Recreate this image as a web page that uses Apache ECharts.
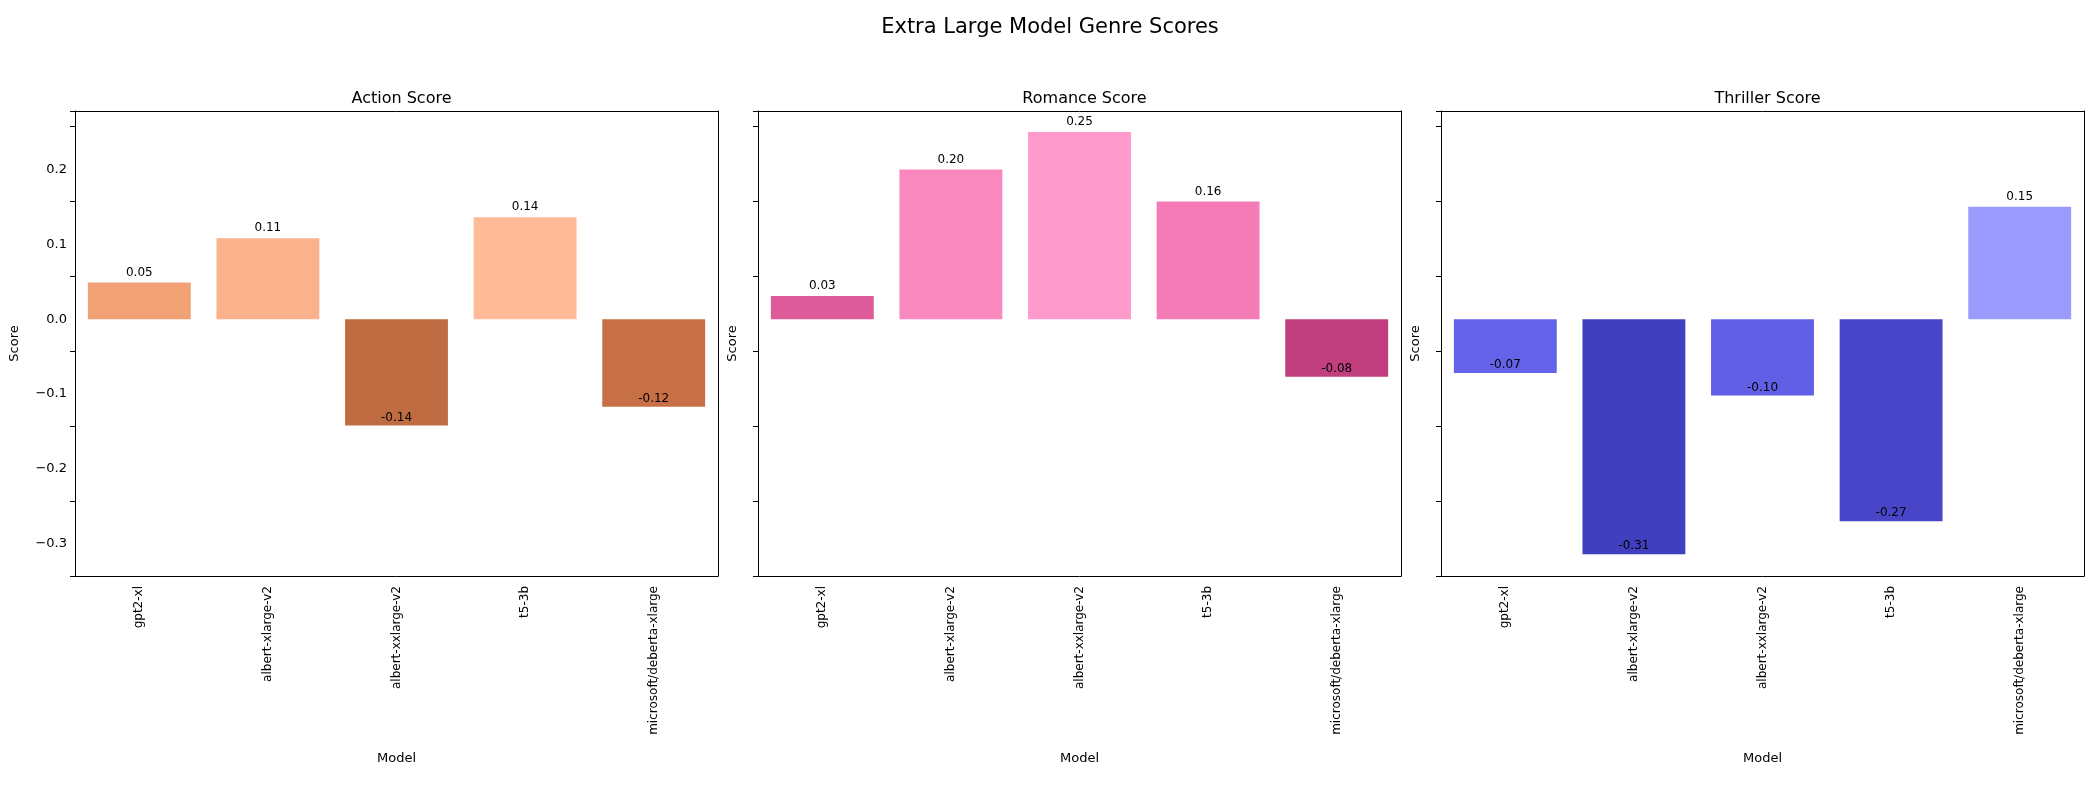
<!DOCTYPE html>
<html><head><meta charset="utf-8">
<script src="https://cdn.jsdelivr.net/npm/echarts@6/dist/echarts.min.js"></script>
<style>body{margin:0}#c{width:2100px;height:800px}</style></head>
<body><div id="c"></div>
<script>
const models = ["gpt2-xl","albert-xlarge-v2","albert-xxlarge-v2","t5-3b","microsoft/deberta-xlarge"];
const panelTitles = ["Action Score","Romance Score","Thriller Score"];
const actionScores = [0.049, 0.108, -0.142, 0.136, -0.117];
const romanceScores = [0.031, 0.200, 0.250, 0.157, -0.077];
const thrillerScores = [-0.072, -0.314, -0.102, -0.270, 0.150];
const actionColors = ["#f2a175","#fbb28c","#c06c42","#ffbb98","#c87045"];
const romanceColors = ["#de5b9a","#f888be","#ff9acc","#f47bb5","#c13f7f"];
const thrillerColors = ["#6462e8","#403fbf","#615fe6","#4845c9","#9b9bfe"];
const yTicks = [-0.3,-0.2,-0.1,0.0,0.1,0.2];

const data = [actionScores, romanceScores, thrillerScores];
const cols = [actionColors, romanceColors, thrillerColors];
const lefts = [75, 758, 1441];
const W = 643, TOP = 111, H = 465;
const F = "DejaVu Sans";
const grid = [], xAxis = [], yAxis = [], series = [], title = [];
title.push({text:"Extra Large Model Genre Scores", left:"center", top:12, textStyle:{fontFamily:F,fontSize:21,fontWeight:"normal",color:"#000"}});
for (let i=0;i<3;i++){
  grid.push({left:lefts[i], top:TOP, width:W, height:H});
  title.push({text:panelTitles[i], left:lefts[i]+W/2, textAlign:"center", top:86, textStyle:{fontFamily:F,fontSize:16,fontWeight:"normal",color:"#000"}});
  xAxis.push({type:"category", gridIndex:i, data:models, name:"Model", nameLocation:"middle", nameGap:176,
    nameTextStyle:{fontFamily:F,fontSize:13,color:"#000"},
    axisLine:{onZero:false,lineStyle:{color:"#000"}}, axisTick:{alignWithLabel:true,length:5,lineStyle:{color:"#000"}},
    axisLabel:{rotate:90,fontFamily:F,fontSize:12,color:"#000",margin:10}});
  xAxis.push({type:"category", gridIndex:i, position:"top", data:models, axisLine:{onZero:false,lineStyle:{color:"#000"}}, axisTick:{show:false}, axisLabel:{show:false}});
  yAxis.push({type:"value", gridIndex:i, min:-0.343, max:0.278, name:"Score", nameLocation:"middle", nameGap: i===0?54:19,
    nameTextStyle:{fontFamily:F,fontSize:13,color:"#000"},
    interval:0.1, splitLine:{show:false},
    axisLine:{show:true,lineStyle:{color:"#000"}}, axisTick:{show:true,length:5,lineStyle:{color:"#000"}},
    axisLabel:{show:i===0,fontFamily:F,fontSize:13,color:"#000",
      formatter:v=>{const r=Math.round(v*10)/10; if(!yTicks.some(t=>Math.abs(t-r)<1e-9)||Math.abs(v-r)>1e-6) return ""; return (r<0?"\u2212":"")+Math.abs(r).toFixed(1);},
      customValues: yTicks}});
  yAxis.push({type:"value", gridIndex:i, position:"right", min:-0.343, max:0.278, splitLine:{show:false}, axisLine:{show:true,lineStyle:{color:"#000"}}, axisTick:{show:false}, axisLabel:{show:false}});
  series.push({type:"bar", xAxisIndex:2*i, yAxisIndex:2*i, barWidth:"80%",
    data:data[i].map((v,j)=>({value:v, itemStyle:{color:cols[i][j]},
      label:{show:true, position: v>=0?"top":"insideBottom", distance: v>=0?4:2, formatter:v.toFixed(2), fontFamily:F, fontSize:12, color:"#000"}}))});
}
const chart = echarts.init(document.getElementById("c"));
chart.setOption({backgroundColor:"#fff", animation:false, title, grid, xAxis, yAxis, series});
</script></body></html>
